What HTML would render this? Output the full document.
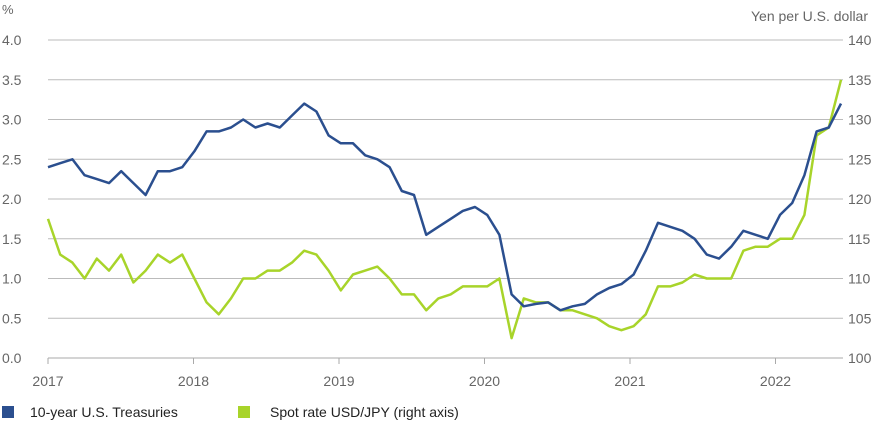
<!DOCTYPE html>
<html><head><meta charset="utf-8"><style>
body{margin:0;background:#fff;font-family:"Liberation Sans",sans-serif;}
svg text{font-family:"Liberation Sans",sans-serif;}
</style></head><body>
<svg id="chart" width="873" height="424" viewBox="0 0 873 424">
<g id="grid"></g>
<g id="lax"></g>
<g id="rax"></g>
<g id="xax"></g>
<text x="2" y="14" font-size="13" fill="#666">%</text>
<text x="868" y="21" font-size="14" fill="#666" text-anchor="end">Yen per U.S. dollar</text>
<path id="jpy" fill="none" stroke="#a8d42a" stroke-width="2.5" stroke-linejoin="round"/>
<path id="ust" fill="none" stroke="#2b4f8f" stroke-width="2.5" stroke-linejoin="round"/>
<g>
<rect x="2" y="406" width="12" height="12" fill="#2b4f8f"/>
<text x="30" y="417" font-size="14" fill="#222">10-year U.S. Treasuries</text>
<rect x="238" y="406" width="12" height="12" fill="#a8d42a"/>
<text x="270" y="417" font-size="14" fill="#222">Spot rate USD/JPY (right axis)</text>
</g>
</svg>
<script>
const years=[2017,2018,2019,2020,2021,2022];
const leftTicks=["0.0","0.5","1.0","1.5","2.0","2.5","3.0","3.5","4.0"];
const rightTicks=["100","105","110","115","120","125","130","135","140"];
const treasury=[2.4,2.45,2.5,2.3,2.25,2.2,2.35,2.2,2.05,2.35,2.35,2.4,
2.6,2.85,2.85,2.9,3.0,2.9,2.95,2.9,3.05,3.2,3.1,2.8,
2.7,2.7,2.55,2.5,2.4,2.1,2.05,1.55,1.65,1.75,1.85,1.9,
1.8,1.55,0.8,0.65,0.68,0.7,0.6,0.65,0.68,0.8,0.88,0.93,
1.05,1.35,1.7,1.65,1.6,1.5,1.3,1.25,1.4,1.6,1.55,1.5,
1.8,1.95,2.3,2.85,2.9,3.2];
const usdjpy=[117.5,113,112,110,112.5,111,113,109.5,111,113,112,113,
110,107,105.5,107.5,110,110,111,111,112,113.5,113,111,
108.5,110.5,111,111.5,110,108,108,106,107.5,108,109,109,
109,110,102.5,107.5,107,107,106,106,105.5,105,104,103.5,
104,105.5,109,109,109.5,110.5,110,110,110,113.5,114,114,
115,115,118,128,129,135];
const X=t=>48+(t-2017)*145.5;
const YL=v=>358-v*79.5;
const YR=v=>358-(v-100)*7.95;
const ns="http://www.w3.org/2000/svg";
function mk(tag,parent,attrs){const e=document.createElementNS(ns,tag);for(const k in attrs)e.setAttribute(k,attrs[k]);parent.appendChild(e);return e;}
const grid=document.getElementById('grid'),lax=document.getElementById('lax'),rax=document.getElementById('rax'),xax=document.getElementById('xax');
leftTicks.forEach((l,i)=>{
 const y=YL(+l);
 const g=mk('line',grid,{x1:48,x2:843,y1:y,y2:y,stroke:i==0?'#aaa':'#bbb','stroke-width':1});
 
 
 const t=mk('text',lax,{x:2,y:y+5,'font-size':14,fill:'#666'});t.textContent=l;
 
 
});
rightTicks.forEach(l=>{
 const t=mk('text',rax,{x:848,y:YR(+l)+5,'font-size':14,fill:'#666'});t.textContent=l;
 
 
});
years.forEach(yr=>{
 const x=X(yr);
 const tk=mk('line',xax,{x1:x,x2:x,y1:358,y2:364,stroke:'#aaa'});
 
 
 const t=mk('text',xax,{x:x,y:386,'font-size':14,fill:'#666','text-anchor':'middle'});t.textContent=yr;
 
 
});
function path(arr,Y){return arr.map((v,i)=>(i?'L':'M')+X(2017+i*(5.45/65)).toFixed(1)+','+Y(v).toFixed(1)).join('');}
document.getElementById('ust').setAttribute('d',path(treasury,YL));
document.getElementById('jpy').setAttribute('d',path(usdjpy,YR));
</script>
</body></html>
